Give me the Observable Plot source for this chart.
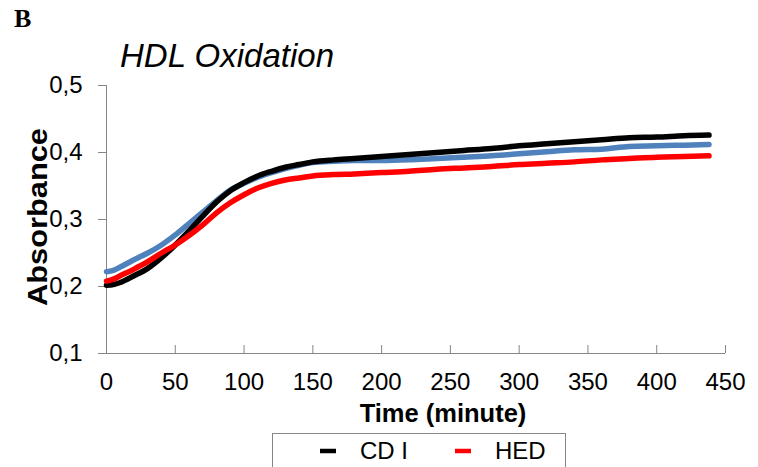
<!DOCTYPE html>
<html>
<head>
<meta charset="utf-8">
<script src="https://cdn.jsdelivr.net/npm/d3@7"></script>
<script src="https://cdn.jsdelivr.net/npm/@observablehq/plot@0.6"></script>
<style>
  html, body { margin: 0; padding: 0; background: #fff; }
  #chart { width: 758px; height: 467px; overflow: hidden; }
</style>
</head>
<body>
<div id="chart"></div>
<script>
// ---- data ----
const time = [0, 5, 10, 20, 30, 40, 50, 60, 70, 80, 90, 100, 110, 120, 130, 140, 150, 165, 180, 200, 220, 240, 260, 280, 300, 320, 340, 360, 380, 400, 420, 438];
const cdI = [0.202, 0.203, 0.206, 0.216, 0.227, 0.243, 0.262, 0.283, 0.305, 0.326, 0.343, 0.355, 0.365, 0.372, 0.378, 0.382, 0.386, 0.389, 0.391, 0.394, 0.397, 0.400, 0.403, 0.406, 0.410, 0.413, 0.416, 0.419, 0.422, 0.423, 0.425, 0.426];
const hed = [0.208, 0.211, 0.216, 0.226, 0.237, 0.250, 0.262, 0.276, 0.292, 0.310, 0.325, 0.337, 0.347, 0.354, 0.359, 0.362, 0.365, 0.367, 0.368, 0.370, 0.372, 0.375, 0.377, 0.379, 0.382, 0.384, 0.386, 0.389, 0.391, 0.393, 0.394, 0.395];
const third = [0.222, 0.224, 0.229, 0.240, 0.250, 0.262, 0.277, 0.294, 0.311, 0.328, 0.344, 0.354, 0.363, 0.370, 0.376, 0.381, 0.385, 0.387, 0.388, 0.388, 0.389, 0.391, 0.393, 0.395, 0.398, 0.401, 0.404, 0.405, 0.409, 0.410, 0.411, 0.412];
const xTicks = [0, 50, 100, 150, 200, 250, 300, 350, 400, 450];
const yTicks = [0.1, 0.2, 0.3, 0.4, 0.5];
const legendNames = ["CD I", "HED"];
const legendColors = ["#000000", "#ff0000"];

const mk = (vals, s) => time.map((t, i) => ({t, v: vals[i], s}));
const series = [
  {name: "third", color: "#4f81bd", data: mk(third, "third")},
  {name: "CD I", color: "#000000", data: mk(cdI, "CD I")},
  {name: "HED", color: "#ff0000", data: mk(hed, "HED")}
];

const axisGray = "#868686";
const fmt = d => d.toFixed(1).replace(".", ",");
const sans = "'Liberation Sans', Arial, sans-serif";

const plot = Plot.plot({
  width: 758,
  height: 467,
  marginLeft: 106,
  marginRight: 33,
  marginTop: 85,
  marginBottom: 114,
  style: {fontFamily: sans, fontSize: "24px", color: "#000", background: "#fff", overflow: "visible"},
  x: {domain: [0, 450], label: null},
  y: {domain: [0.1, 0.5], label: null},
  marks: [
    Plot.axisY({ticks: yTicks, tickFormat: fmt, tickSize: 8, tickPadding: 16, stroke: axisGray, fill: "#000", fontSize: 24, label: null}),
    Plot.axisX({ticks: xTicks, tickFormat: d => String(d), tickSize: 0, tickPadding: 19, fill: "#000", fontSize: 24, label: null}),
    Plot.tickX(xTicks, {x: d => d, stroke: axisGray, insetTop: 260}),
    Plot.ruleX([0], {stroke: axisGray}),
    Plot.ruleY([0.1], {stroke: axisGray}),
    ...series.map(s => Plot.line(s.data, {x: "t", y: "v", stroke: s.color, strokeWidth: 5.5, curve: "monotone-x"}))
  ]
});

document.getElementById("chart").appendChild(plot);

const svg = d3.select(plot);
svg.append("text").attr("x", 14).attr("y", 27).attr("text-anchor", "start")
  .attr("font-family", "'Liberation Serif', 'Times New Roman', serif").attr("font-weight", "bold").attr("font-size", 26)
  .attr("fill", "#000").text("B");
svg.append("text").attr("x", 120).attr("y", 67).attr("text-anchor", "start")
  .attr("font-family", sans).attr("font-style", "italic").attr("font-size", 33)
  .attr("fill", "#000").text("HDL Oxidation");
svg.append("text").attr("transform", "translate(47,217) rotate(-90)")
  .attr("text-anchor", "middle")
  .attr("font-family", sans).attr("font-weight", "bold").attr("font-size", 27)
  .attr("textLength", 178).attr("lengthAdjust", "spacingAndGlyphs")
  .attr("fill", "#000").text("Absorbance");
svg.append("text").attr("x", 443).attr("y", 422)
  .attr("text-anchor", "middle")
  .attr("font-family", sans).attr("font-weight", "bold").attr("font-size", 25.5)
  .attr("fill", "#000").text("Time (minute)");

// legend
const lg = svg.append("g");
lg.append("rect").attr("x", 272.5).attr("y", 433.5).attr("width", 293).attr("height", 60)
  .attr("fill", "none").attr("stroke", axisGray);
const itemX = [320, 455];
legendNames.forEach((n, i) => {
  lg.append("line").attr("x1", itemX[i]).attr("x2", itemX[i] + 16).attr("y1", 451).attr("y2", 451)
    .attr("stroke", legendColors[i]).attr("stroke-width", 4.5);
  lg.append("text").attr("x", itemX[i] + 40).attr("y", 459).attr("text-anchor", "start")
    .attr("font-family", sans).attr("font-size", 24)
    .attr("fill", "#000").text(n);
});
</script>
</body>
</html>
